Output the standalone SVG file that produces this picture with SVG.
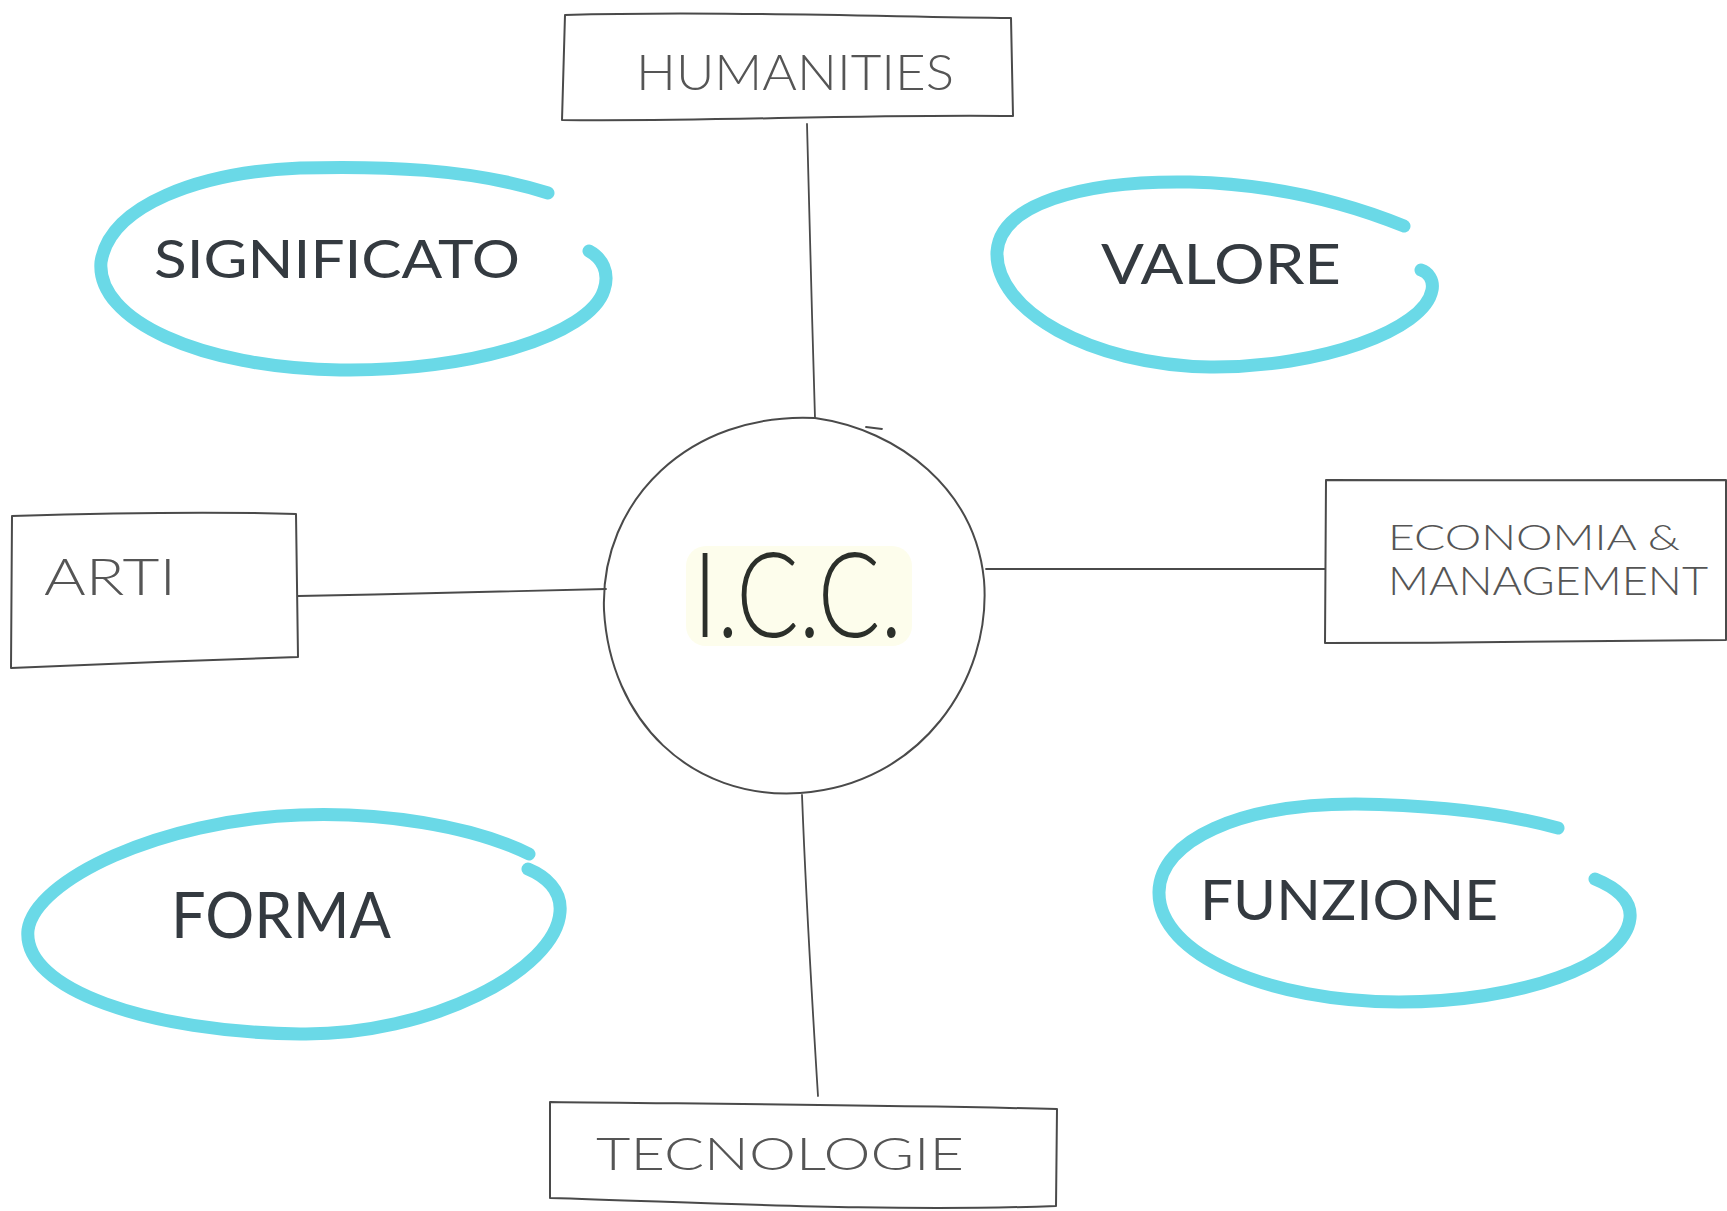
<svg xmlns="http://www.w3.org/2000/svg" width="1727" height="1211" viewBox="0 0 1727 1211">
<style>
.bg{fill:#ffffff}
.box{fill:none;stroke:#4a4a4a;stroke-width:2;stroke-linejoin:round;stroke-linecap:round}
.conn{fill:none;stroke:#4a4a4a;stroke-width:1.8;stroke-linecap:round}
.loop{fill:none;stroke:#6ad9e7;stroke-width:13;stroke-linecap:round;stroke-linejoin:round}
.blabel{font-family:Lato,"Liberation Sans",sans-serif;font-weight:300;fill:#555555}
.llabel{font-family:Lato,"Liberation Sans",sans-serif;font-weight:400;fill:#343a40}
.icc{font-family:Lato,"Liberation Sans",sans-serif;font-weight:300;fill:#2b2f2a}
</style>
<rect class="bg" x="0" y="0" width="1727" height="1211"/>

<g id="connectors">
  <path class="conn" d="M807,124 C809,200 812,320 815,418"/>
  <path class="conn" d="M802,795 C806,900 812,1000 818,1096"/>
  <path class="conn" d="M298,596 C400,594 500,592 606,589"/>
  <path class="conn" d="M986,569 C1100,569 1220,569 1325,569"/>
</g>

<g id="node-humanities">
  <path class="box" d="M565,15 C700,11 860,16 1011,18 L1013,116 C860,114 700,122 562,120 Z"/>
  <text class="blabel" x="636" y="90" font-size="50" textLength="318" lengthAdjust="spacingAndGlyphs">HUMANITIES</text>
</g>

<g id="node-icc">
  <rect x="686" y="546" width="226" height="100" rx="20" fill="#fdfdec"/>
  <path class="box" d="M815,418 C900,430 975,490 984,580 C992,680 920,785 800,793 C690,800 610,720 604,610 C600,500 690,412 815,418 Z"/>
  <path class="conn" d="M866,427 L882,429"/>
  <text class="icc" x="693" y="637" font-size="118" textLength="209" lengthAdjust="spacingAndGlyphs">I.C.C.</text>
</g>

<g id="node-arti">
  <path class="box" d="M12,516 C110,513 200,511 296,514 L298,657 C200,660 110,664 11,668 Z"/>
  <text class="blabel" x="44" y="595" font-size="52" textLength="132" lengthAdjust="spacingAndGlyphs">ARTI</text>
</g>

<g id="node-economia">
  <path class="box" d="M1326,480 C1460,481 1600,479 1726,480 L1726,640 C1600,641 1460,643 1325,643 Z"/>
  <text class="blabel" x="1388" y="550" font-size="36" textLength="292" lengthAdjust="spacingAndGlyphs">ECONOMIA &amp;</text>
  <text class="blabel" x="1388" y="595" font-size="40" textLength="320" lengthAdjust="spacingAndGlyphs">MANAGEMENT</text>
</g>

<g id="node-tecnologie">
  <path class="box" d="M550,1102 C720,1104 890,1105 1057,1109 L1056,1206 C890,1212 720,1203 550,1198 Z"/>
  <text class="blabel" x="596" y="1170" font-size="46" textLength="368" lengthAdjust="spacingAndGlyphs">TECNOLOGIE</text>
</g>

<g id="node-significato">
  <path class="loop" d="M548,193 C470,168 380,166 300,168 C200,172 110,205 101,262 C96,320 200,368 340,370 C470,372 590,335 604,290 C610,272 602,258 589,251"/>
  <text class="llabel" x="154" y="278" font-size="52" textLength="366" lengthAdjust="spacingAndGlyphs">SIGNIFICATO</text>
</g>

<g id="node-valore">
  <path class="loop" d="M1404,226 C1340,200 1270,184 1190,182 C1080,180 1000,205 997,252 C995,310 1090,365 1210,367 C1320,368 1425,330 1432,290 C1434,280 1428,272 1421,270"/>
  <text class="llabel" x="1101" y="284" font-size="56" textLength="240" lengthAdjust="spacingAndGlyphs">VALORE</text>
</g>

<g id="node-forma">
  <path class="loop" d="M529,854 C470,825 380,812 300,815 C160,820 35,880 28,930 C22,990 150,1032 300,1034 C430,1036 556,970 560,912 C562,890 545,876 528,869"/>
  <text class="llabel" x="171" y="938" font-size="64" textLength="220" lengthAdjust="spacingAndGlyphs">FORMA</text>
</g>

<g id="node-funzione">
  <path class="loop" d="M1558,828 C1500,812 1430,805 1355,804 C1240,804 1160,840 1159,892 C1158,955 1270,1002 1399,1002 C1520,1002 1625,965 1630,918 C1632,898 1612,886 1595,879"/>
  <text class="llabel" x="1200" y="920" font-size="56" textLength="298" lengthAdjust="spacingAndGlyphs">FUNZIONE</text>
</g>
</svg>
